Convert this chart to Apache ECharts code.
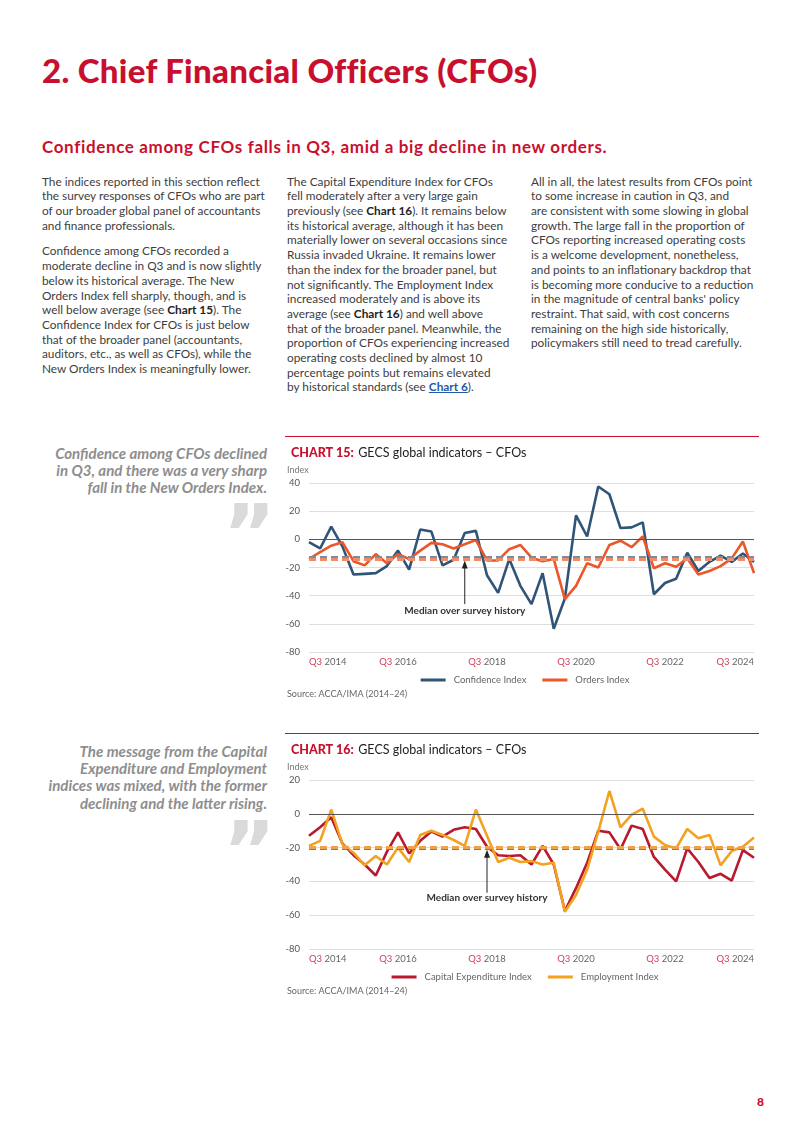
<!DOCTYPE html>
<html>
<head>
<meta charset="utf-8">
<script src="https://cdn.jsdelivr.net/npm/echarts@6/dist/echarts.min.js"></script>
<style>
  html, body { margin:0; padding:0; background:#fff; }
  body { width:802px; height:1133px; position:relative; overflow:hidden; font-family:"Lato","Noto Sans",sans-serif; }
  .abs { position:absolute; white-space:nowrap; }
  #title { left:42px; top:50px; font-size:33px; font-weight:900; color:#c8102e; line-height:40px; }
  #subtitle { left:42px; top:136px; font-size:17px; font-weight:700; color:#c8102e; line-height:22px; }
  .col { position:absolute; top:174.6px; font-size:12px; line-height:14.7px; color:#3d3d3d; white-space:nowrap; }
  .col p { margin:0 0 11px 0; }
  .col b { color:#1e1e1e; font-weight:700; }
  .col a { color:#1f5aa6; font-weight:700; text-decoration:underline; }
  .quote { position:absolute; right:535px; text-align:right; font-style:italic; font-weight:700; color:#8e8e8e; font-size:13.5px; line-height:17.2px; white-space:nowrap; }
  .qmark { position:absolute; left:223px; font-size:80px; font-weight:700; color:#dadada; line-height:80px; height:40px; overflow:visible; font-family:"DejaVu Sans",sans-serif; }
  .rule { position:absolute; left:285px; width:474px; height:1px; background:#c8102e; }
  .chart { position:absolute; left:280px; width:490px; height:275px; }
  #pnum { left:757px; top:1094px; font-size:12px; font-weight:900; color:#c8102e; }
</style>
</head>
<body>
<div id="title" class="abs fit" data-w="494">2. Chief Financial Officers (CFOs)</div>
<div id="subtitle" class="abs fit" data-w="565">Confidence among CFOs falls in Q3, amid a big decline in new orders.</div>

<div class="col" id="c1" style="left:42px;">
<p>The indices reported in this section reflect<br>
<span id="ref1">the survey responses of CFOs who are part</span><br>
of our broader global panel of accountants<br>
and finance professionals.</p>
<p>Confidence among CFOs recorded a<br>
moderate decline in Q3 and is now slightly<br>
below its historical average. The New<br>
Orders Index fell sharply, though, and is<br>
well below average (see <b>Chart 15</b>). The<br>
Confidence Index for CFOs is just below<br>
that of the broader panel (accountants,<br>
auditors, etc., as well as CFOs), while the<br>
New Orders Index is meaningfully lower.</p>
</div>

<div class="col" id="c2" style="left:287px;">
<p>The Capital Expenditure Index for CFOs<br>
fell moderately after a very large gain<br>
previously (see <b>Chart 16</b>). It remains below<br>
its historical average, although it has been<br>
materially lower on several occasions since<br>
Russia invaded Ukraine. It remains lower<br>
than the index for the broader panel, but<br>
not significantly. The Employment Index<br>
increased moderately and is above its<br>
average (see <b>Chart 16</b>) and well above<br>
that of the broader panel. Meanwhile, the<br>
proportion of CFOs experiencing increased<br>
operating costs declined by almost 10<br>
percentage points but remains elevated<br>
by historical standards (see <a>Chart 6</a>).</p>
</div>

<div class="col" id="c3" style="left:531px;">
<p>All in all, the latest results from CFOs point<br>
to some increase in caution in Q3, and<br>
are consistent with some slowing in global<br>
growth. The large fall in the proportion of<br>
CFOs reporting increased operating costs<br>
is a welcome development, nonetheless,<br>
and points to an inflationary backdrop that<br>
is becoming more conducive to a reduction<br>
in the magnitude of central banks' policy<br>
restraint. That said, with cost concerns<br>
remaining on the high side historically,<br>
policymakers still need to tread carefully.</p>
</div>

<div class="quote" id="q1" style="top:445px;">Confidence among CFOs declined<br><span id="qref">in Q3, and there was a very sharp</span><br>fall in the New Orders Index.</div>
<div class="qmark" style="top:495px;">&#8221;</div>

<div class="quote" id="q2" style="top:743px;">The message from the Capital<br>Expenditure and Employment<br>indices was mixed, with the former<br>declining and the latter rising.</div>
<div class="qmark" style="top:812px;">&#8221;</div>

<div class="rule" style="top:436px;"></div>
<div class="rule" style="top:733px;"></div>
<div id="chart15" class="chart" style="top:430px;"></div>
<div id="chart16" class="chart" style="top:727px;"></div>

<div id="pnum" class="abs">8</div>

<script>
// ---------- data ----------
const quarters = [
  'Q3 2014','Q4 2014','Q1 2015','Q2 2015','Q3 2015','Q4 2015','Q1 2016','Q2 2016',
  'Q3 2016','Q4 2016','Q1 2017','Q2 2017','Q3 2017','Q4 2017','Q1 2018','Q2 2018',
  'Q3 2018','Q4 2018','Q1 2019','Q2 2019','Q3 2019','Q4 2019','Q1 2020','Q2 2020',
  'Q3 2020','Q4 2020','Q1 2021','Q2 2021','Q3 2021','Q4 2021','Q1 2022','Q2 2022',
  'Q3 2022','Q4 2022','Q1 2023','Q2 2023','Q3 2023','Q4 2023','Q1 2024','Q2 2024',
  'Q3 2024'
];
const confidenceIndex = [-2, -6.5, 9, -5, -25, -24.5, -24, -19, -8, -21.5, 7, 5.5, -18.5, -14.5, 4.5, 6,
  -25.5, -38, -14, -33, -46, -24, -63.5, -42, 17, 2, 37.5, 32, 8, 8.5, 12, -39, -31, -28, -9.5, -22.5,
  -16, -11.5, -16, -10, -16];
const ordersIndex = [-14, -9, -4.5, -2, -15.5, -18.5, -10.5, -17, -10.5, -14, -8, -2.5, -3.5, -6.5, -3.5, -0.5,
  -15, -15, -7, -4, -13, -15.5, -14, -42.5, -33, -17, -20, -4, -1, -5.5, 2, -20.5, -17, -19.5, -13.5, -25,
  -22.5, -19, -13.5, -1.5, -24];
const capexIndex = [-13, -8, -2, -17.5, -24.5, -30, -36.5, -22.5, -11, -23.5, -16, -10.5, -13.5, -9.5, -8, -9,
  -19.5, -24.5, -25, -24.5, -30, -19, -30, -57.5, -44, -29, -10, -11, -21, -7, -9, -25.5, -33, -40, -20.5,
  -28.5, -38, -35.5, -39.5, -21.5, -26];
const employmentIndex = [-19, -16, 2.5, -18, -23, -30.5, -25, -30, -20, -28.5, -12.5, -10, -12.5, -15.5, -19, 2.5,
  -13, -28.5, -26, -28.5, -28, -30, -29, -58, -48, -33, -10.5, 13.5, -8, -0.5, 3, -13.5, -18.5, -20.5, -9,
  -14.5, -12.5, -30.5, -22, -19.5, -14];
const medianConfidence = -12.5, medianOrders = -14;
const medianCapex = -20.3, medianEmployment = -19.7;
const yTicks15 = [-80, 40, 20];   // min, max, interval
const yTicks16 = [-80, 20, 20];

// ---------- text fitting ----------
function fitLS(el, target) {
  const w = el.getBoundingClientRect().width;
  const n = el.textContent.length;
  el.style.letterSpacing = ((target - w) / n) + 'px';
}
document.querySelectorAll('.fit').forEach(el => fitLS(el, +el.dataset.w));
(function () {
  const ref = document.getElementById('ref1');
  const w = ref.getBoundingClientRect().width;
  const fs = 12 * 223 / w;
  document.querySelectorAll('.col').forEach(c => c.style.fontSize = fs + 'px');
  const q = document.getElementById('qref');
  const wq = q.getBoundingClientRect().width;
  const fq = 13.5 * 211 / wq;
  document.querySelectorAll('.quote').forEach(c => c.style.fontSize = fq + 'px');
})();

// ---------- charts ----------
const FONT = 'Lato';
function makeChart(domId, num, s1, s2, yt, anno) {
  const chart = echarts.init(document.getElementById(domId), null, {renderer: 'canvas'});
  const dashed = (v, c) => ({
    yAxis: v, lineStyle: {type: [7, 4], width: 3, color: c}, label: {show: false}
  });
  const source = {type: 'text', left: 7, top: 260,
    style: {text: 'Source: ACCA/IMA (2014\u201324)', fontFamily: FONT, fontSize: 9, fill: '#666'}};
  const option = {
    animation: false,
    textStyle: {fontFamily: FONT},
    title: {
      left: 6, top: 9,
      text: '{a|CHART ' + num + ':} {b|GECS global indicators \u2013 CFOs}',
      textStyle: {
        rich: {
          a: {fontFamily: FONT, fontSize: 12.5, fontWeight: 900, color: '#c8102e'},
          b: {fontFamily: FONT, fontSize: 12.5, fontWeight: 400, color: '#222'}
        }
      }
    },
    legend: {
      top: 240, left: 'center',
      itemWidth: 25, itemHeight: 3, itemGap: 16, icon: 'rect',
      textStyle: {fontFamily: FONT, fontSize: 9.5, color: '#666', padding: [0, 0, 0, 3]},
      data: [s1.name, s2.name]
    },
    grid: {left: 29, right: 16, top: 53, bottom: 53, containLabel: false},
    xAxis: {
      type: 'category', data: quarters, boundaryGap: false,
      axisLine: {show: false}, axisTick: {show: false}, splitLine: {show: false},
      axisLabel: {
        interval: 7, margin: 5, fontSize: 9.5, alignMinLabel: 'left', alignMaxLabel: 'right',
        formatter: v => { const p = v.split(' '); return '{q|' + p[0] + '} {y|' + p[1] + '}'; },
        rich: {
          q: {color: '#d2405a', fontSize: 9.5, fontFamily: FONT},
          y: {color: '#666', fontSize: 9.5, fontFamily: FONT}
        }
      }
    },
    yAxis: {
      type: 'value', min: yt[0], max: yt[1], interval: yt[2],
      name: 'Index', nameLocation: 'end', nameGap: 8,
      nameTextStyle: {fontFamily: FONT, fontSize: 9, color: '#777', align: 'left', padding: [0, 0, 0, -22]},
      axisLine: {show: false}, axisTick: {show: false},
      axisLabel: {fontSize: 9.5, color: '#555', margin: 9, fontFamily: FONT},
      splitLine: {lineStyle: {color: '#dedede', width: 1}}
    },
    graphic: [source],
    series: [
      {
        name: s1.name, type: 'line', data: s1.data, symbol: 'none',
        lineStyle: {width: 2.6, color: s1.color}, itemStyle: {color: s1.color}, z: 3,
        markLine: {
          silent: true, symbol: 'none', animation: false,
          data: [
            {yAxis: 0, lineStyle: {type: 'solid', width: 1, color: '#555'}, label: {show: false}},
            dashed(s1.median, s1.mcolor)
          ]
        }
      },
      {
        name: s2.name, type: 'line', data: s2.data, symbol: 'none',
        lineStyle: {width: 2.6, color: s2.color}, itemStyle: {color: s2.color}, z: 4,
        markLine: {
          silent: true, symbol: 'none', animation: false,
          data: [dashed(s2.median, s2.mcolor)]
        }
      }
    ]
  };
  chart.setOption(option);
  // annotation
  const top = chart.convertToPixel({xAxisIndex: 0, yAxisIndex: 0}, [anno.x, anno.tip]);
  const bot = chart.convertToPixel({xAxisIndex: 0, yAxisIndex: 0}, [anno.x, anno.base]);
  const txt = chart.convertToPixel({xAxisIndex: 0, yAxisIndex: 0}, [anno.x, anno.text]);
  chart.setOption({
    graphic: [
      source,
      {type: 'line', shape: {x1: top[0], y1: top[1] + 6, x2: bot[0], y2: bot[1]},
       style: {stroke: '#222', lineWidth: 1}, z: 10},
      {type: 'polygon', shape: {points: [[top[0], top[1]], [top[0] - 3, top[1] + 8], [top[0] + 3, top[1] + 8]]},
       style: {fill: '#222'}, z: 10},
      {type: 'text', x: txt[0], y: txt[1],
       style: {text: 'Median over survey history', fontFamily: FONT, fontSize: 10, fontWeight: 700,
               fill: '#333', align: 'center', verticalAlign: 'middle'}, z: 10}
    ]
  });
}

makeChart('chart15', 15,
  {name: 'Confidence Index', data: confidenceIndex, color: '#2f5477', median: medianConfidence, mcolor: '#7a8ca0'},
  {name: 'Orders Index', data: ordersIndex, color: '#e9572a', median: medianOrders, mcolor: '#ef8d68'},
  yTicks15, {x: 13.84, tip: -15, base: -46, text: -50.4});

makeChart('chart16', 16,
  {name: 'Capital Expenditure Index', data: capexIndex, color: '#b8192d', median: medianCapex, mcolor: '#d8565a'},
  {name: 'Employment Index', data: employmentIndex, color: '#f2a21f', median: medianEmployment, mcolor: '#f0a24a'},
  yTicks16, {x: 16.0, tip: -21.3, base: -46.7, text: -49.7});
</script>
</body>
</html>
